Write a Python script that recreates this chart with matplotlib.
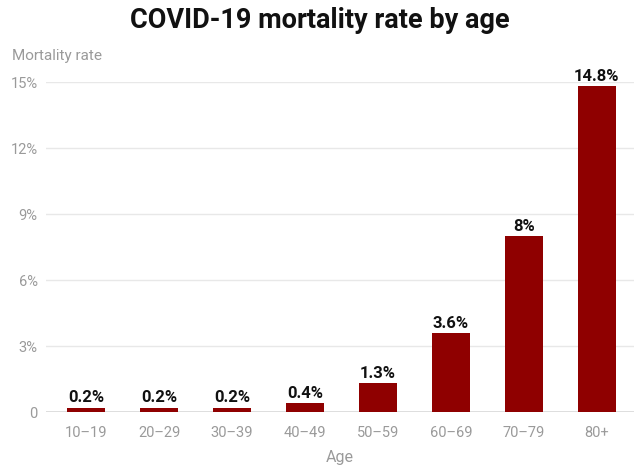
import matplotlib
matplotlib.use('Agg')
import matplotlib.pyplot as plt

ages = ['10\u201319', '20\u201329', '30\u201339', '40\u201349', '50\u201359',
        '60\u201369', '70\u201379', '80+']
rates = [0.2, 0.2, 0.2, 0.4, 1.3, 3.6, 8, 14.8]
rate_labels = ['0.2%', '0.2%', '0.2%', '0.4%', '1.3%', '3.6%', '8%', '14.8%']
yticks = [0, 3, 6, 9, 12, 15]
ytick_labels = ['0', '3%', '6%', '9%', '12%', '15%']

plt.rcParams['font.family'] = ['Roboto', 'DejaVu Sans']

fig = plt.figure(figsize=(6.4, 4.76), dpi=100)
ax = fig.add_axes([46/640, 64/476, 588/640, 330/476])

x = range(len(ages))
ax.bar(x, rates, width=0.52, color='#8f0000', zorder=3)
for i, (v, lab) in enumerate(zip(rates, rate_labels)):
    ax.text(i, v + 0.1, lab, ha='center', va='bottom', fontsize=12,
            fontweight='bold', color='#111111', zorder=4)

ax.set_xlim(-0.55, 7.51)
ax.set_ylim(0, 15)
ax.set_yticks(yticks)
ax.set_yticklabels(ytick_labels)
ax.set_xticks(list(x))
ax.set_xticklabels(ages)
ax.yaxis.grid(True, color='#e8e8e8', linewidth=1, zorder=0)
ax.tick_params(length=0, labelsize=10.5, labelcolor='#9a9a9a')
ax.tick_params(axis='x', pad=10)
ax.tick_params(axis='y', pad=6)
for s in ax.spines.values():
    s.set_visible(False)
ax.axhline(0, color='#d9d9d9', linewidth=1.2, zorder=2)

ax.set_xlabel('Age', fontsize=11.5, color='#9a9a9a', labelpad=7)
fig.text(12/640, 1 - 56/476, 'Mortality rate', fontsize=11, color='#9a9a9a',
         ha='left', va='center')
fig.text(0.5, 1 - 21/476, 'COVID-19 mortality rate by age', fontsize=19.5,
         fontweight='bold', color='#111111', ha='center', va='center')

fig.savefig('out.png', dpi=100, facecolor='white')
